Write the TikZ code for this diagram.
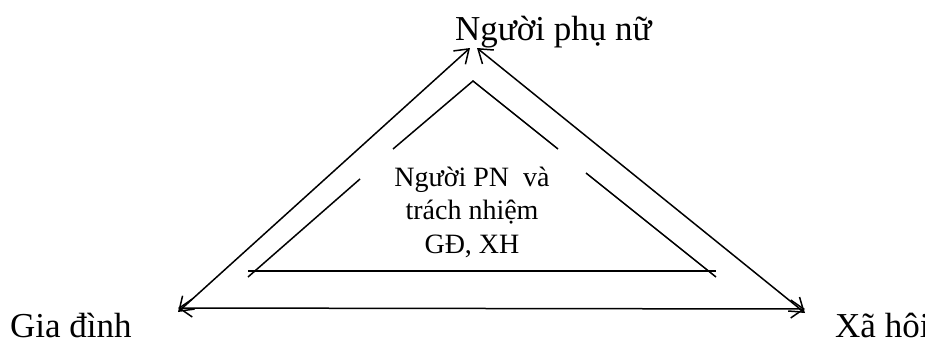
\documentclass[tikz,border=0pt]{standalone}
\usepackage{fontspec}
\setmainfont{Liberation Serif}
\usetikzlibrary{arrows.meta}
\tikzset{
  lbl/.style={inner sep=0pt, anchor=base west, text depth=0pt, font=\fontsize{35}{40}\selectfont},
  inlbl/.style={inner sep=0pt, anchor=base, font=\fontsize{28}{33.5}\selectfont},
  conn/.style={line width=1.5pt, {Straight Barb[length=13pt,width=18pt,line width=1.5pt]}-{Straight Barb[length=13pt,width=18pt,line width=1.5pt]}},
  inner/.style={line width=1.5pt},
}
\begin{document}
\begin{tikzpicture}[x=1pt,y=-1pt]
\useasboundingbox (0,0) rectangle (925,341);
% labels
\node[lbl] (top) at (455,40) {Người phụ nữ};
\node[lbl] (gd) at (10,337) {Gia đình};
\node[lbl] (xh) at (835,337) {Xã hôi};
\node[inlbl] (in1) at (472,186) {Người PN\ \ và};
\node[inlbl] (in2) at (472,219) {trách nhiệm};
\node[inlbl] (in3) at (472,253) {GĐ, XH};
% connector end points
\coordinate (tl) at (470,48);
\coordinate (tr) at (477,48);
\coordinate (bl) at (178,312);
\coordinate (br) at (805,313);
\coordinate (hl) at (178,308);
\coordinate (hr) at (805,309);
\draw[conn] (bl) -- (tl);
\draw[conn] (tr) -- (br);
\draw[conn] (hl) -- (hr);
% inner triangle
\coordinate (ia) at (473,81);
\draw[inner] (393,149) -- (ia) -- (558,149);
\draw[inner] (360,179) -- (248,277);
\draw[inner] (586,173) -- (716,277);
\draw[inner, line width=1.8pt] (248,271) -- (716,271);
\end{tikzpicture}
\end{document}
